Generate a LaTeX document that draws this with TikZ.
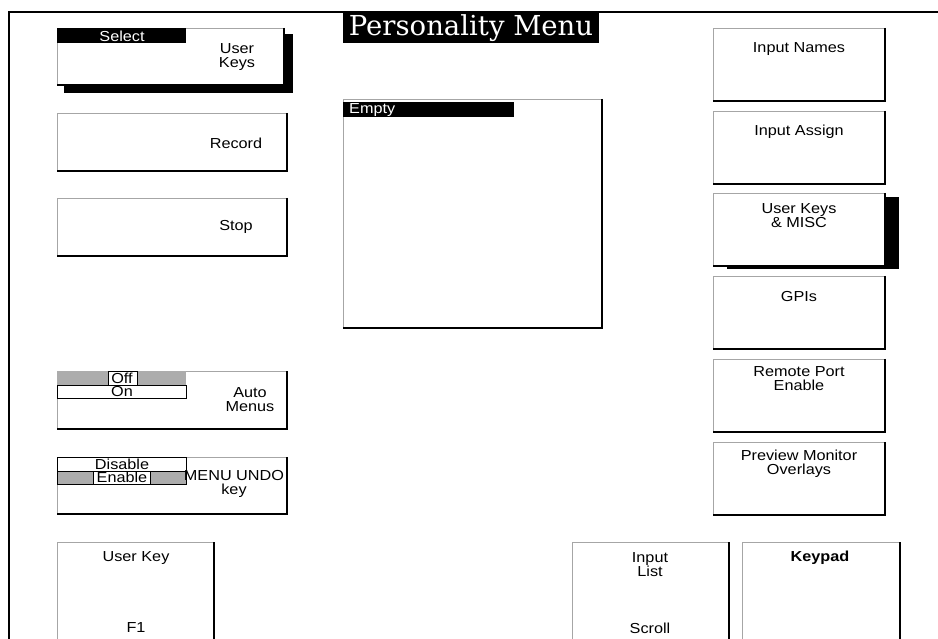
\documentclass[tikz,border=0pt]{standalone}
\usepackage{fontspec}
\setmainfont{Liberation Sans}[FakeStretch=1.12]
\newfontfamily\titlefont{DejaVu Serif}

\tikzset{
  btn/.style={draw=gray!70, line width=0.8pt, fill=white, rectangle, anchor=north west, inner sep=0pt},
  rb/.style={black, line width=1.6pt},
  cell/.style={draw=black, line width=0.6pt, rectangle, anchor=north west, inner sep=0pt, minimum height=13.5},
  shade/.style={fill=black, rectangle, anchor=north west, inner sep=0pt},
  txt/.style={inner sep=0pt, align=center}
}

\begin{document}
\begin{tikzpicture}[x=1pt,y=-1pt,font=\fontsize{14.5}{14}\selectfont]
  \useasboundingbox (0,0) rectangle (938,639);
  \draw[line width=1.5pt] (9,640) -- (9,12) -- (939,12);

  % left column
  \node (ukeyssh) at (64,34) [shade, minimum width=229, minimum height=59] {};
  \node (ukeys) at (57,28) [btn, minimum width=226, minimum height=56] {};
  \node (sel) at (57,28) [shade, minimum width=129, minimum height=14.5] {};
  \node (rec) at (57,113) [btn, minimum width=229, minimum height=57] {};
  \node (stop) at (57,198) [btn, minimum width=229, minimum height=57] {};
  \node (auto) at (57,371) [btn, minimum width=229, minimum height=57] {};
  \node (undo) at (57,457) [btn, minimum width=229, minimum height=56] {};
  \node (f1) at (57,542) [btn, minimum width=156, minimum height=100] {};

  \node (offbar) at (57,371) [cell, draw=none, fill=gray!65, minimum width=129] {};
  \node (off) at (108,371) [cell, fill=white, minimum width=29] {};
  \node (on) at (57,384.5) [cell, minimum width=129] {};
  \node (dis) at (57,457) [cell, minimum width=129] {};
  \node (enbar) at (57,470.5) [cell, fill=gray!65, minimum width=129] {};
  \node (en) at (93,470.5) [cell, fill=white, minimum width=57] {};

  % centre
  \node (title) at (343,13) [shade, minimum width=256, minimum height=30] {};
  \node (list) at (343,99) [btn, minimum width=258, minimum height=228] {};
  \node (empty) at (343,102) [shade, minimum width=171, minimum height=15] {};

  % right column
  \node (names) at (713,28) [btn, minimum width=171, minimum height=72] {};
  \node (assign) at (713,111) [btn, minimum width=171, minimum height=72] {};
  \node (miscsh) at (727,197) [shade, minimum width=172, minimum height=72] {};
  \node (misc) at (713,193) [btn, minimum width=171, minimum height=72] {};
  \node (gpi) at (713,276) [btn, minimum width=171, minimum height=72] {};
  \node (port) at (713,359) [btn, minimum width=171, minimum height=72] {};
  \node (prev) at (713,442) [btn, minimum width=171, minimum height=72] {};
  \node (ilist) at (572,542) [btn, minimum width=156, minimum height=100] {};
  \node (kpad) at (742,542) [btn, minimum width=157, minimum height=100] {};

  \foreach \b in {ukeys,rec,stop,auto,undo,f1,list,names,assign,misc,gpi,port,prev,ilist,kpad}
    \draw[rb] (\b.north east) |- (\b.south west);

  % labels
  \node (tselect) at (122,36) [txt, white] {Select};
  \node (tukeys) at (237,57) [txt] {User\\Keys};
  \node (trec) at (236,143) [txt] {Record};
  \node (tstop) at (236,227) [txt] {Stop};
  \node (toff) at (122,378) [txt] {Off};
  \node (ton) at (122,391.5) [txt] {On};
  \node (tauto) at (250,400) [txt] {Auto\\Menus};
  \node (tdis) at (122,464) [txt] {Disable};
  \node (ten) at (122,477.5) [txt] {Enable};
  \node (tundo) at (234,484) [txt] {MENU UNDO\\key};
  \node (tf1a) at (136,558) [txt] {User Key};
  \node (tf1b) at (136,628) [txt] {F1};

  \node (ttitle) at (471,28.5) [txt, white, font=\titlefont\fontsize{27.5}{27.5}\selectfont] {Personality Menu};
  \node (tempty) at (349,110) [txt, anchor=west, white] {Empty};

  \node (tnames) at (799,49) [txt] {Input Names};
  \node (tassign) at (799,132) [txt] {Input Assign};
  \node (tmisc) at (799,216) [txt] {User Keys\\\& MISC};
  \node (tgpi) at (799,297) [txt] {GPIs};
  \node (tport) at (799,379) [txt] {Remote Port\\Enable};
  \node (tprev) at (799,464) [txt] {Preview Monitor\\Overlays};
  \node (tilist) at (650,565) [txt] {Input\\List};
  \node (tscroll) at (650,628) [txt] {Scroll};
  \node (tkpad) at (820,558) [txt, font=\fontsize{14.5}{14}\selectfont\bfseries] {Keypad};
\end{tikzpicture}
\end{document}
